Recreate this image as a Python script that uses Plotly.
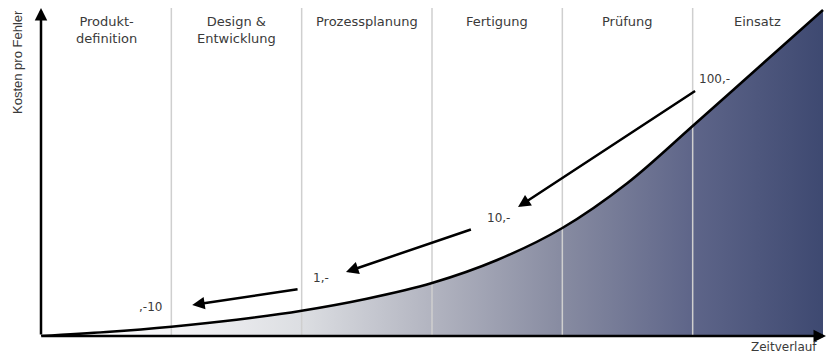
import plotly.graph_objects as go

# ---- data ----
stages = ["Produkt-<br>definition", "Design &<br>Entwicklung", "Prozessplanung",
          "Fertigung", "Prüfung", "Einsatz"]
stage_centers = [0.5, 1.5, 2.5, 3.5, 4.5, 5.5]
stage_bounds = [1, 2, 3, 4, 5]

curve_x = [0, 0.5, 1, 1.5, 2, 2.5, 3, 3.5, 4, 4.5, 5, 5.5, 6]
curve_y = [0, 4, 9.3, 16.3, 25.3, 37.3, 53, 76, 108, 153, 210, 268, 326]

cost_labels = ["100,-", "10,-", "1,-", ",-10"]
label_x = [5.17, 3.51, 2.15, 0.84]
label_y = [257, 118, 58, 29]
arrow_tail_x = [5.03, 3.31, 1.98]
arrow_tail_y = [246, 107, 47]
arrow_head_x = [3.66, 2.34, 1.16]
arrow_head_y = [129, 64, 31]

X_MAX = 6.023
Y_MAX = 328

TEXT = "#3a3a3a"
FONT = "DejaVu Sans, Verdana, sans-serif"

fig = go.Figure()

# gradient fill under curve
fig.add_trace(go.Scatter(
    x=curve_x, y=curve_y, mode="lines", line=dict(width=0, shape="spline", smoothing=1),
    fill="tozeroy",
    fillgradient=dict(type="horizontal", colorscale=[
        [0.0, "#ffffff"], [1/6, "#f4f4f6"], [2/6, "#dcdee2"], [3/6, "#b2b4c0"],
        [4/6, "#878ba1"], [5/6, "#5e6589"], [1.0, "#3e4971"]]),
    hoverinfo="skip", showlegend=False))

# stage dividers
div_x, div_y = [], []
for b in stage_bounds:
    div_x += [b, b, None]
    div_y += [0, Y_MAX, None]
fig.add_trace(go.Scatter(x=div_x, y=div_y, mode="lines",
                         line=dict(color="#cfcfcf", width=1.5),
                         hoverinfo="skip", showlegend=False))

# curve
fig.add_trace(go.Scatter(x=curve_x, y=curve_y, mode="lines",
                         line=dict(color="black", width=2.5, shape="spline", smoothing=1),
                         hoverinfo="skip", showlegend=False))

annotations = []
# axes with arrows
annotations.append(dict(x=0, y=Y_MAX, ax=0, ay=0, xref="x", yref="y", axref="x", ayref="y",
                        text="", showarrow=True, arrowhead=2, arrowsize=1, arrowwidth=2.5,
                        arrowcolor="black", standoff=0))
annotations.append(dict(x=X_MAX, y=0, ax=-0.01, ay=0, xref="x", yref="y", axref="x", ayref="y",
                        text="", showarrow=True, arrowhead=2, arrowsize=1, arrowwidth=2.5,
                        arrowcolor="black", standoff=0))
# cost arrows
for tx, ty, hx, hy in zip(arrow_tail_x, arrow_tail_y, arrow_head_x, arrow_head_y):
    annotations.append(dict(x=hx, y=hy, ax=tx, ay=ty, xref="x", yref="y", axref="x", ayref="y",
                            text="", showarrow=True, arrowhead=2, arrowsize=1, arrowwidth=2.5,
                            arrowcolor="black", standoff=0))
# cost labels
for t, lx, ly in zip(cost_labels, label_x, label_y):
    annotations.append(dict(x=lx, y=ly, xref="x", yref="y", text=t, showarrow=False,
                            xanchor="center", yanchor="middle",
                            font=dict(family=FONT, size=12, color=TEXT)))
# stage labels
for t, cx in zip(stages, stage_centers):
    annotations.append(dict(x=cx, y=1, xref="x", yref="paper", yanchor="top", yshift=-4,
                            xanchor="center",
                            text=t, showarrow=False,
                            font=dict(family=FONT, size=13, color=TEXT)))
# axis titles
annotations.append(dict(x=17, y=62, xref="paper", yref="paper", text="Kosten pro Fehler",
                        showarrow=False, textangle=-90, xanchor="center", yanchor="middle",
                        font=dict(family="Liberation Sans Narrow, Arial Narrow, Liberation Sans, sans-serif",
                                  size=13, color=TEXT)))
annotations.append(dict(x=784, y=347, xref="paper", yref="paper", text="Zeitverlauf",
                        showarrow=False, xanchor="center", yanchor="middle",
                        font=dict(family=FONT, size=12, color=TEXT)))

# convert pixel-placed titles to paper coords
L, R, T, B = 41, 6, 8, 17
W, H = 832, 353
pw, ph = W - L - R, H - T - B
for a in annotations[-2:]:
    px, py = a["x"], a["y"]
    a["x"] = (px - L) / pw
    a["y"] = (H - B - py) / ph

fig.update_layout(
    width=W, height=H, margin=dict(l=L, r=R, t=T, b=B),
    paper_bgcolor="white", plot_bgcolor="white",
    xaxis=dict(range=[0, X_MAX], visible=False, fixedrange=True),
    yaxis=dict(range=[0, Y_MAX], visible=False, fixedrange=True),
    annotations=annotations, showlegend=False,
)
fig.write_html("out.html")
